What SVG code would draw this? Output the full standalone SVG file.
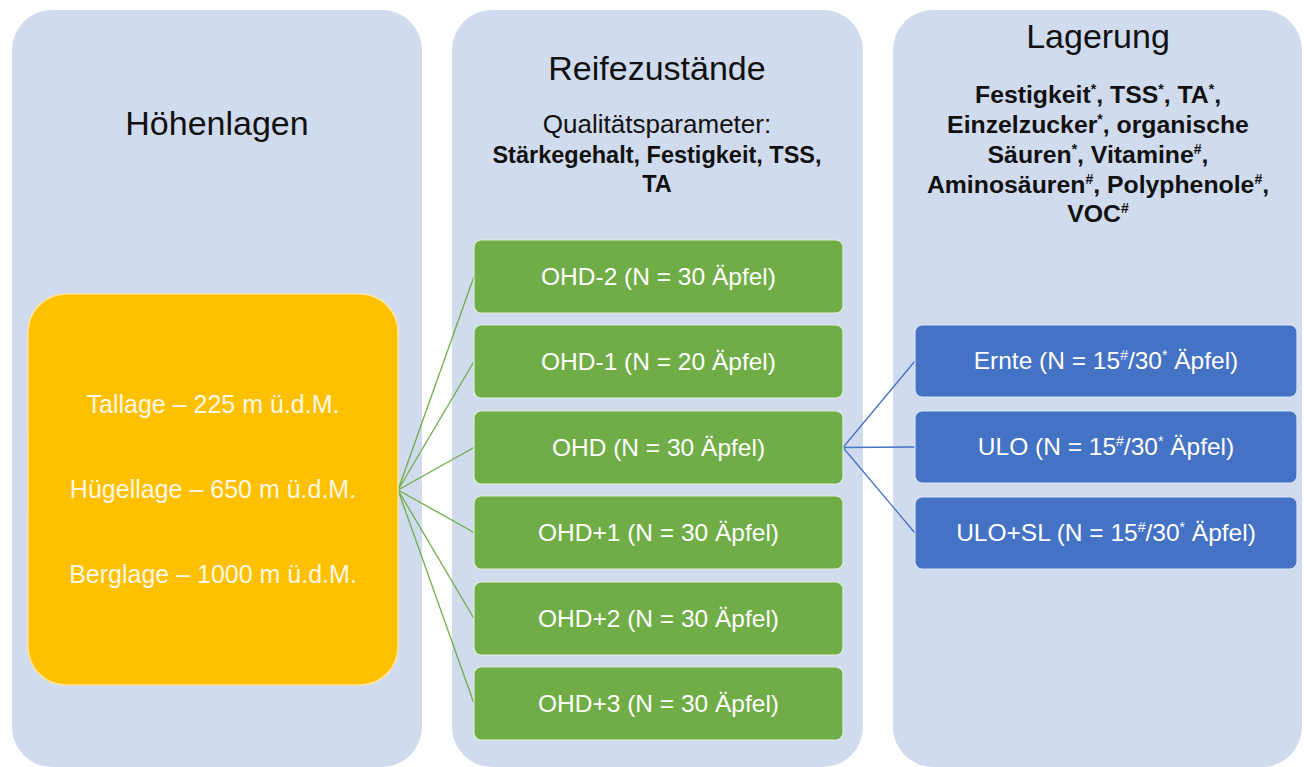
<svg xmlns="http://www.w3.org/2000/svg" width="1304" height="767" viewBox="0 0 1304 767">
  <style>
    .panel { fill: #D0DBEE; }
    .title { font-family: "Liberation Sans", Arial, sans-serif; font-size: 34px; fill: #111; text-anchor: middle; }
    .sub { font-family: "Liberation Sans", Arial, sans-serif; font-size: 23.5px; fill: #111; text-anchor: middle; }
    .sub-r { font-size: 26px; }
    .sub-l { font-size: 24.8px; }
    .b { font-weight: bold; }
    .box-y { fill: #FFC000; stroke: #FFE699; stroke-width: 1.5; }
    .box-g { fill: #70AD47; stroke: #E2EFDA; stroke-width: 1.2; }
    .box-b { fill: #4472C4; stroke: #DAE3F3; stroke-width: 1.2; }
    .lbl { font-family: "Liberation Sans", Arial, sans-serif; font-size: 24.5px; fill: #FFFFFF; text-anchor: middle; }
    .lbl-y { font-family: "Liberation Sans", Arial, sans-serif; font-size: 25px; fill: #FFF8E6; text-anchor: middle; }
    .sup { font-size: 14px; }
    .c-g { stroke: #70AD47; stroke-width: 1.3; fill: none; }
    .c-b { stroke: #4472C4; stroke-width: 1.3; fill: none; }
  </style>

  <!-- background columns -->
  <g id="col-hoehenlagen">
    <rect class="panel" x="12" y="10" width="410" height="757" rx="40"/>
    <text class="title" x="217" y="135">Höhenlagen</text>
  </g>
  <g id="col-reifezustaende">
    <rect class="panel" x="452" y="10" width="411" height="757" rx="40"/>
    <text class="title" x="657" y="80">Reifezustände</text>
    <text class="sub sub-r" x="657" y="133">Qualitätsparameter:</text>
    <text class="sub b" x="657" y="163">Stärkegehalt, Festigkeit, TSS,</text>
    <text class="sub b" x="657" y="192">TA</text>
  </g>
  <g id="col-lagerung">
    <rect class="panel" x="893" y="10" width="409" height="757" rx="40"/>
    <text class="title" x="1098" y="48">Lagerung</text>
    <text class="sub sub-l b" x="1098" y="103">Festigkeit<tspan class="sup" dy="-9">*</tspan><tspan dy="9">, TSS</tspan><tspan class="sup" dy="-9">*</tspan><tspan dy="9">, TA</tspan><tspan class="sup" dy="-9">*</tspan><tspan dy="9">,</tspan></text>
    <text class="sub sub-l b" x="1098" y="133">Einzelzucker<tspan class="sup" dy="-9">*</tspan><tspan dy="9">, organische</tspan></text>
    <text class="sub sub-l b" x="1098" y="163">Säuren<tspan class="sup" dy="-9">*</tspan><tspan dy="9">, Vitamine</tspan><tspan class="sup" dy="-9">#</tspan><tspan dy="9">,</tspan></text>
    <text class="sub sub-l b" x="1098" y="193">Aminosäuren<tspan class="sup" dy="-9">#</tspan><tspan dy="9">, Polyphenole</tspan><tspan class="sup" dy="-9">#</tspan><tspan dy="9">,</tspan></text>
    <text class="sub sub-l b" x="1098" y="222">VOC<tspan class="sup" dy="-9">#</tspan></text>
  </g>

  <!-- connectors -->
  <g id="connectors">
    <line class="c-g" x1="398" y1="490" x2="474" y2="276.5"/>
    <line class="c-g" x1="398" y1="490" x2="474" y2="361.5"/>
    <line class="c-g" x1="398" y1="490" x2="474" y2="447.5"/>
    <line class="c-g" x1="398" y1="490" x2="474" y2="532.5"/>
    <line class="c-g" x1="398" y1="490" x2="474" y2="618.5"/>
    <line class="c-g" x1="398" y1="490" x2="474" y2="703.5"/>
    <line class="c-b" x1="843" y1="447.5" x2="915" y2="361"/>
    <line class="c-b" x1="843" y1="447.5" x2="915" y2="447"/>
    <line class="c-b" x1="843" y1="447.5" x2="915" y2="533"/>
  </g>

  <!-- altitude node -->
  <g id="node-hoehenlagen">
    <rect class="box-y" x="28" y="294" width="370" height="391" rx="38"/>
    <text class="lbl-y" x="213" y="413">Tallage – 225 m ü.d.M.</text>
    <text class="lbl-y" x="213" y="498">Hügellage – 650 m ü.d.M.</text>
    <text class="lbl-y" x="213" y="583">Berglage – 1000 m ü.d.M.</text>
  </g>

  <!-- ripeness stages -->
  <g id="node-ohd-2">
    <rect class="box-g" x="474" y="240" width="369" height="73" rx="7"/>
    <text class="lbl" x="658.5" y="285">OHD-2 (N = 30 Äpfel)</text>
  </g>
  <g id="node-ohd-1">
    <rect class="box-g" x="474" y="325" width="369" height="73" rx="7"/>
    <text class="lbl" x="658.5" y="370">OHD-1 (N = 20 Äpfel)</text>
  </g>
  <g id="node-ohd">
    <rect class="box-g" x="474" y="411" width="369" height="73" rx="7"/>
    <text class="lbl" x="658.5" y="456">OHD (N = 30 Äpfel)</text>
  </g>
  <g id="node-ohd+1">
    <rect class="box-g" x="474" y="496" width="369" height="73" rx="7"/>
    <text class="lbl" x="658.5" y="541">OHD+1 (N = 30 Äpfel)</text>
  </g>
  <g id="node-ohd+2">
    <rect class="box-g" x="474" y="582" width="369" height="73" rx="7"/>
    <text class="lbl" x="658.5" y="627">OHD+2 (N = 30 Äpfel)</text>
  </g>
  <g id="node-ohd+3">
    <rect class="box-g" x="474" y="667" width="369" height="73" rx="7"/>
    <text class="lbl" x="658.5" y="712">OHD+3 (N = 30 Äpfel)</text>
  </g>

  <!-- storage conditions -->
  <g id="node-ernte">
    <rect class="box-b" x="915" y="325" width="382" height="72" rx="7"/>
    <text class="lbl" x="1106" y="369">Ernte (N = 15<tspan class="sup" dy="-9">#</tspan><tspan dy="9">/30</tspan><tspan class="sup" dy="-9">*</tspan><tspan dy="9"> Äpfel)</tspan></text>
  </g>
  <g id="node-ulo">
    <rect class="box-b" x="915" y="411" width="382" height="72" rx="7"/>
    <text class="lbl" x="1106" y="455">ULO (N = 15<tspan class="sup" dy="-9">#</tspan><tspan dy="9">/30</tspan><tspan class="sup" dy="-9">*</tspan><tspan dy="9"> Äpfel)</tspan></text>
  </g>
  <g id="node-ulo-sl">
    <rect class="box-b" x="915" y="497" width="382" height="72" rx="7"/>
    <text class="lbl" x="1106" y="541">ULO+SL (N = 15<tspan class="sup" dy="-9">#</tspan><tspan dy="9">/30</tspan><tspan class="sup" dy="-9">*</tspan><tspan dy="9"> Äpfel)</tspan></text>
  </g>
</svg>
